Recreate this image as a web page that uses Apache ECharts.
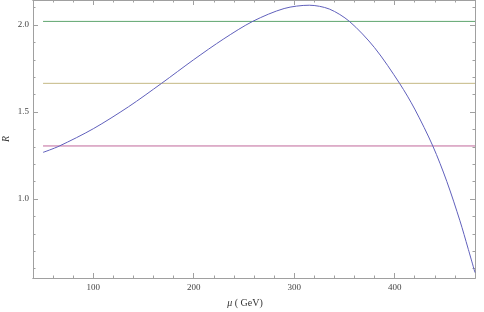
<!DOCTYPE html>
<html>
<head>
<meta charset="utf-8">
<script src="https://cdn.jsdelivr.net/npm/echarts@6/dist/echarts.min.js"></script>
<style>html,body{margin:0;padding:0;background:#fff}#c{width:484px;height:312px}</style>
</head>
<body>
<div id="c"></div>
<script>
// Curve R(mu)
const muValues = [50, 66, 100, 135, 168, 200, 230, 259, 290, 315, 335, 355, 380, 405, 420, 438, 452, 465, 473, 480];
const rValues  = [1.268, 1.304, 1.404, 1.530, 1.665, 1.801, 1.921, 2.022, 2.095, 2.114, 2.092, 2.021, 1.870, 1.664, 1.517, 1.305, 1.100, 0.875, 0.718, 0.577];
// Horizontal reference levels
const levelValues = [2.021, 1.665, 1.305];
const levelColors = ['#5fa56e', '#c4b884', '#c0689a'];
const levelRange = [50, 480];
// Ticks
const xMajorTicks = [100, 200, 300, 400];
const xMinorTicks = [60, 80, 120, 140, 160, 180, 220, 240, 260, 280, 320, 340, 360, 380, 420, 440, 460, 480];
const yMajorTicks = [1.0, 1.5, 2.0];
const yMinorTicks = [0.6, 0.7, 0.8, 0.9, 1.1, 1.2, 1.3, 1.4, 1.6, 1.7, 1.8, 1.9, 2.1];

const X_MIN = 40, X_MAX = 480, Y_MIN = 0.546, Y_MAX = 2.144;
const frameColor = '#a0a0a0';
const font = 'Liberation Serif';

function xAx(pos, ticks, len, labels, extra) {
  return Object.assign({
    type: 'value', position: pos, min: X_MIN, max: X_MAX,
    axisLine: { show: true, lineStyle: { color: frameColor, width: 1 } },
    axisTick: { show: true, inside: true, length: len, customValues: ticks, lineStyle: { color: frameColor } },
    axisLabel: labels ? { show: true, customValues: xMajorTicks, color: '#444', fontFamily: font, fontSize: 9, margin: 5, formatter: v => String(v) } : { show: false },
    splitLine: { show: false }
  }, extra || {});
}
function yAx(pos, ticks, len, labels, extra) {
  return Object.assign({
    type: 'value', position: pos, min: Y_MIN, max: Y_MAX,
    axisLine: { show: true, lineStyle: { color: frameColor, width: 1 } },
    axisTick: { show: true, inside: true, length: len, customValues: ticks, lineStyle: { color: frameColor } },
    axisLabel: labels ? { show: true, customValues: yMajorTicks, color: '#444', fontFamily: font, fontSize: 9, margin: 4, formatter: v => v.toFixed(1) } : { show: false },
    splitLine: { show: false }
  }, extra || {});
}

const series = [];
levelValues.forEach((v, i) => {
  series.push({
    type: 'line', xAxisIndex: 0, yAxisIndex: 0, symbol: 'none', silent: true,
    color: levelColors[i],
    itemStyle: { color: levelColors[i] },
    lineStyle: { color: levelColors[i], width: 1 },
    emphasis: { disabled: true },
    data: levelRange.map(x => [x, v])
  });
});
series.push({
  type: 'line', xAxisIndex: 0, yAxisIndex: 0, symbol: 'none', smooth: 0.3, silent: true,
  color: '#6060bc',
  itemStyle: { color: '#6060bc' },
  lineStyle: { color: '#6060bc', width: 1 },
  emphasis: { disabled: true },
  data: muValues.map((m, i) => [m, rValues[i]])
});

const chart = echarts.init(document.getElementById('c'), null, { renderer: 'canvas' });
chart.setOption({
  animation: false,
  grid: { left: 33, right: 9, top: 0, bottom: 34, containLabel: false, outerBoundsMode: 'none' },
  xAxis: [
    xAx('bottom', xMajorTicks, 5, true, {
      name: '{i|μ} ( GeV)', nameLocation: 'middle', nameGap: 20, nameMoveOverlap: false,
      nameTextStyle: { color: '#333', fontFamily: font, fontSize: 10, padding: [0, 18, 0, 0], rich: { i: { fontStyle: 'italic', fontFamily: font, fontSize: 10, color: '#333' } } }
    }),
    xAx('bottom', xMinorTicks, 2.5, false),
    xAx('top', xMajorTicks, 5, false),
    xAx('top', xMinorTicks, 2.5, false)
  ],
  yAxis: [
    yAx('left', yMajorTicks, 5, true, {
      name: 'R', nameLocation: 'middle', nameGap: 22, nameRotate: 90, nameMoveOverlap: false,
      nameTextStyle: { color: '#333', fontFamily: font, fontSize: 10, fontStyle: 'italic' }
    }),
    yAx('left', yMinorTicks, 2.5, false),
    yAx('right', yMajorTicks, 5, false),
    yAx('right', yMinorTicks, 2.5, false)
  ],
  series: series
});
</script>
</body>
</html>
